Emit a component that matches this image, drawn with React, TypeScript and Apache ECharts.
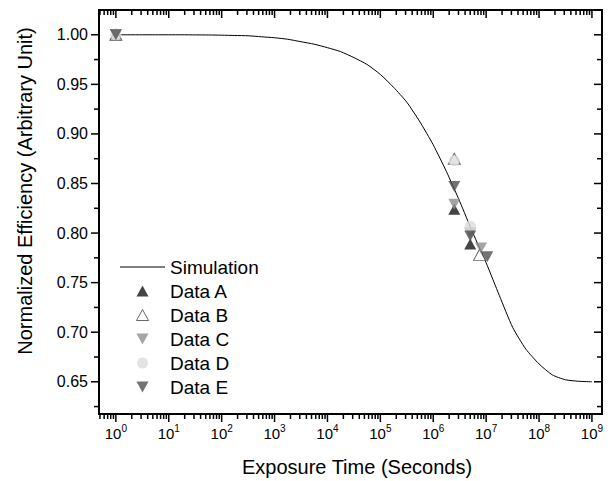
import React, { useEffect, useRef } from 'react';
import * as echarts from 'echarts';

// ---- Data ----
const simTime = [
  1, 1.778, 3.162, 5.623, 10, 17.78, 31.62, 56.23, 100, 177.8, 316.2, 562.3,
  1000, 1778, 3162, 5623, 1e4, 1.778e4, 3.162e4, 5.623e4, 1e5, 1.778e5, 3.162e5, 5.623e5,
  1e6, 1.778e6, 3.162e6, 5.623e6, 1e7, 1.778e7, 3.162e7, 5.623e7, 1e8, 1.778e8, 3.162e8, 5.623e8, 1e9,
];
const simValue = [
  1.0, 1.0, 1.0, 1.0, 1.0, 1.0, 0.9999, 0.9998, 0.9996, 0.9993, 0.999, 0.998,
  0.997, 0.9955, 0.993, 0.9905, 0.987, 0.983, 0.977, 0.97, 0.96, 0.947, 0.932, 0.912,
  0.889, 0.862, 0.832, 0.8, 0.77, 0.737, 0.705, 0.683, 0.668, 0.657, 0.652, 0.6505, 0.65,
];

const timeA = [1, 2.5e6, 5e6];
const valueA = [1.0, 0.824, 0.789];
const timeB = [1, 2.5e6, 7.5e6];
const valueB = [1.0, 0.875, 0.778];
const timeC = [1, 2.5e6, 5e6, 8e6];
const valueC = [1.0, 0.829, 0.8, 0.785];
const timeD = [1, 2.5e6, 5e6];
const valueD = [1.0, 0.873, 0.807];
const timeE = [1, 2.5e6, 5e6, 1.05e7];
const valueE = [1.0, 0.847, 0.797, 0.776];

const xMajorExponents = [0, 1, 2, 3, 4, 5, 6, 7, 8, 9];
const xMinorMultipliers = [2, 3, 4, 5, 6, 7, 8, 9];
const yMajorTicks = [0.65, 0.7, 0.75, 0.8, 0.85, 0.9, 0.95, 1.0];
const yMinorTicks = [0.625, 0.675, 0.725, 0.775, 0.825, 0.875, 0.925, 0.975];

const X_MIN = 0.48;
const X_MAX = 1.55e9;
const Y_MIN = 0.6175;
const Y_MAX = 1.025;

const FONT = '"Liberation Sans", Arial, Helvetica, sans-serif';

const UP_TRI = 'path://M6,0L12,11L0,11Z';
const DOWN_TRI = 'path://M0,0L12,0L6,11Z';
const LINE_ICON = 'path://M0,0h45v1h-45z';

const pairs = (t: number[], v: number[]) => t.map((x, i) => [x, v[i]]);

function buildTicks() {
  const ticks: number[][] = [];
  const MAJ = 8;
  const MIN = 5;
  const xMinor: number[] = [];
  for (let n = -1; n <= 9; n++) {
    for (const k of xMinorMultipliers) {
      const v = k * Math.pow(10, n);
      if (v > X_MIN && v < X_MAX) xMinor.push(v);
    }
  }
  for (const e of xMajorExponents) {
    const v = Math.pow(10, e);
    ticks.push([v, Y_MIN, 0, MAJ]);
    ticks.push([v, Y_MAX, 1, MAJ]);
  }
  for (const v of xMinor) {
    ticks.push([v, Y_MIN, 0, MIN]);
    ticks.push([v, Y_MAX, 1, MIN]);
  }
  for (const v of yMajorTicks) {
    ticks.push([X_MIN, v, 2, MAJ]);
    ticks.push([X_MAX, v, 3, MAJ]);
  }
  for (const v of yMinorTicks) {
    ticks.push([X_MIN, v, 2, MIN]);
    ticks.push([X_MAX, v, 3, MIN]);
  }
  return ticks;
}

export default function App() {
  const ref = useRef<HTMLDivElement>(null);

  useEffect(() => {
    if (!ref.current) return;
    const chart = echarts.init(ref.current, null, { renderer: 'svg' });

    const option: any = {
      animation: false,
      backgroundColor: '#fff',
      grid: {
        left: 99,
        right: 11,
        top: 10,
        bottom: 67,
        show: true,
        borderColor: '#000',
        borderWidth: 2,
        backgroundColor: 'transparent',
      },
      xAxis: {
        type: 'log',
        logBase: 10,
        min: X_MIN,
        max: X_MAX,
        splitNumber: 9,
        axisLine: { show: false },
        axisTick: { show: false },
        splitLine: { show: false },
        axisLabel: {
          margin: 9,
          color: '#000',
          formatter: (v: number) => {
            const L = Math.log10(v);
            const e = Math.round(L);
            if (Math.abs(L - e) > 1e-6) return '';
            return '{b|10}{s|' + e + '}';
          },
          rich: {
            b: { fontSize: 15, fontFamily: FONT, color: '#000', verticalAlign: 'bottom', lineHeight: 18 },
            s: { fontSize: 10, fontFamily: FONT, color: '#000', verticalAlign: 'top', lineHeight: 10 },
          },
        },
      },
      yAxis: {
        type: 'value',
        min: Y_MIN,
        max: Y_MAX,
        splitNumber: 8,
        axisLine: { show: false },
        axisTick: { show: false },
        splitLine: { show: false },
        axisLabel: {
          margin: 11,
          fontSize: 16,
          fontFamily: FONT,
          color: '#000',
          formatter: (v: number) => {
            const r = Math.round(v / 0.05) * 0.05;
            if (Math.abs(v - r) > 1e-6) return '';
            return v.toFixed(2);
          },
        },
      },
      legend: {
        orient: 'vertical',
        left: 120,
        top: 257,
        padding: 0,
        itemGap: 4,
        itemWidth: 45,
        itemHeight: 11,
        symbolKeepAspect: true,
        selectedMode: false,
        textStyle: { fontSize: 19, lineHeight: 20, color: '#000', fontFamily: FONT },
        data: [
          { name: 'Simulation', icon: LINE_ICON, itemStyle: { color: '#000', borderWidth: 0 } },
          { name: 'Data A', icon: UP_TRI, itemStyle: { color: '#151515', borderWidth: 0 } },
          { name: 'Data B', icon: UP_TRI, itemStyle: { color: '#fff', borderColor: '#444', borderWidth: 1 } },
          { name: 'Data C', icon: DOWN_TRI, itemStyle: { color: '#8e8e8e', borderWidth: 0 } },
          { name: 'Data D', icon: 'circle', itemStyle: { color: '#dcdcdc', borderWidth: 0 } },
          { name: 'Data E', icon: DOWN_TRI, itemStyle: { color: '#505050', borderWidth: 0 } },
        ],
      },
      graphic: [
        {
          type: 'text',
          x: 357,
          y: 467,
          style: {
            text: 'Exposure Time (Seconds)',
            fontSize: 20,
            fontFamily: FONT,
            fill: '#000',
            textAlign: 'center',
            textVerticalAlign: 'middle',
          },
        },
        {
          type: 'text',
          x: 25,
          y: 191,
          rotation: Math.PI / 2,
          style: {
            text: 'Normalized Efficiency (Arbitrary Unit)',
            fontSize: 20,
            fontFamily: FONT,
            fill: '#000',
            textAlign: 'center',
            textVerticalAlign: 'middle',
          },
        },
      ],
      series: [
        {
          name: 'Simulation',
          type: 'line',
          data: pairs(simTime, simValue),
          symbol: 'none',
          smooth: 0.2,
          lineStyle: { color: '#000', width: 1 },
          itemStyle: { color: '#000' },
          z: 2,
        },
        {
          type: 'scatter',
          z: 3,
          name: 'Data A',
          data: pairs(timeA, valueA),
          symbol: 'triangle',
          symbolSize: [12, 11],
          itemStyle: { color: '#151515' },
        },
        {
          type: 'scatter',
          z: 3,
          name: 'Data B',
          data: pairs(timeB, valueB),
          symbol: 'triangle',
          symbolSize: [12, 11],
          itemStyle: { color: '#fff', borderColor: '#444', borderWidth: 1 },
        },
        {
          type: 'scatter',
          z: 3,
          name: 'Data C',
          data: pairs(timeC, valueC),
          symbol: 'triangle',
          symbolRotate: 180,
          symbolSize: [12, 11],
          itemStyle: { color: '#8e8e8e' },
        },
        {
          type: 'scatter',
          z: 3,
          name: 'Data D',
          data: pairs(timeD, valueD),
          symbol: 'circle',
          symbolSize: 11,
          itemStyle: { color: '#dcdcdc' },
        },
        {
          type: 'scatter',
          z: 3,
          name: 'Data E',
          data: pairs(timeE, valueE),
          symbol: 'triangle',
          symbolRotate: 180,
          symbolSize: [12, 11],
          itemStyle: { color: '#505050' },
        },
        {
          name: 'ticks',
          type: 'custom',
          clip: false,
          silent: true,
          z: 5,
          data: buildTicks(),
          renderItem: (_params: any, api: any) => {
            const p = api.coord([api.value(0), api.value(1)]);
            const side = api.value(2);
            const len = api.value(3);
            const shape =
              side < 2
                ? { x1: p[0], y1: p[1], x2: p[0], y2: p[1] + len }
                : { x1: p[0] - len, y1: p[1], x2: p[0], y2: p[1] };
            return { type: 'line', shape, style: { stroke: '#000', lineWidth: 1.5 }, silent: true };
          },
        },
      ],
    };

    chart.setOption(option);
    return () => chart.dispose();
  }, []);

  return (
    <div
      ref={ref}
      style={{ position: 'fixed', left: 0, top: 0, width: 613, height: 481, background: '#fff' }}
    />
  );
}
